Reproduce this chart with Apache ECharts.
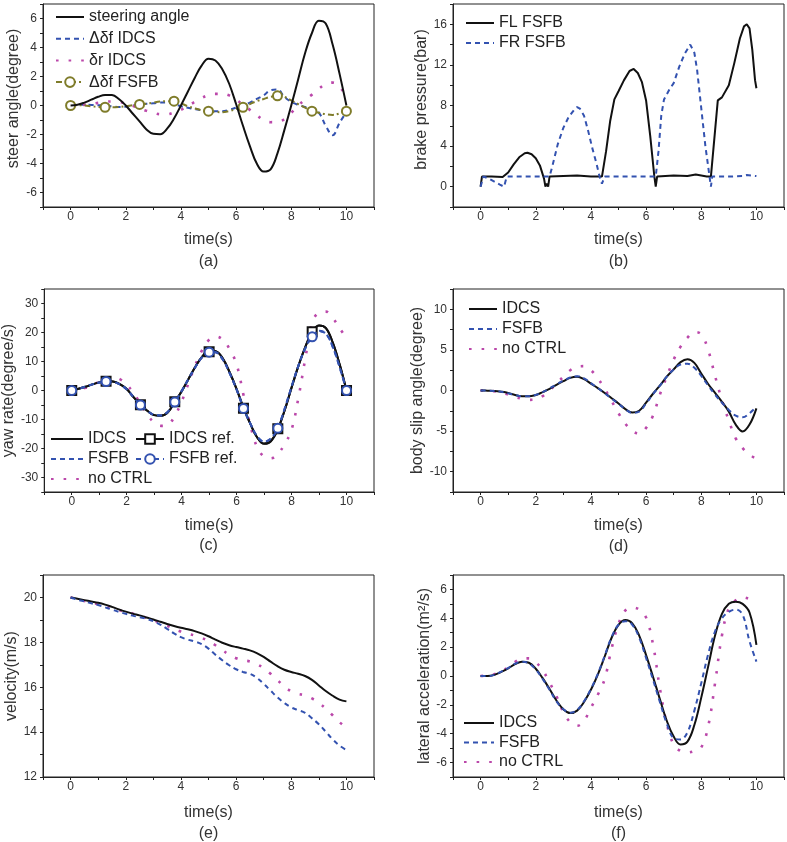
<!DOCTYPE html>
<html>
<head>
<meta charset="utf-8">
<script src="https://cdn.jsdelivr.net/npm/echarts@6/dist/echarts.min.js"></script>
<style>
html,body{margin:0;padding:0;background:#fff;}
#chart{width:787px;height:842px;}
</style>
</head>
<body>
<div id="chart"></div>
<script>
// ---------- data ----------
const time = [0,0.25,0.5,0.75,1,1.25,1.5,1.75,2,2.25,2.5,2.75,3,3.25,3.5,3.75,4,4.25,4.5,4.75,5,5.25,5.5,5.75,6,6.25,6.5,6.75,7,7.25,7.5,7.75,8,8.25,8.5,8.75,9,9.25,9.5,9.75,10];
const xTicks = [0,2,4,6,8,10];

// (a) steer angle (degree)
const steeringAngle = [0,0.05,0.2,0.4,0.6,0.73,0.72,0.45,0.0, -0.55,-1.1,-1.65,-1.95,-1.98,-1.6,-0.9,0.0, 0.95,1.9,2.75,3.22,3.1,2.5,1.5,0.1, -1.4,-2.8,-4.0,-4.55,-4.4,-3.3,-1.7,0.0, 1.8,3.6,5.0,5.85,5.65,4.2,2.2,0.0];
const dfIDCS = [0,0.05,0.06,0.04,0.02,0,-0.05,-0.1,-0.08, 0,0.08,0.12,0.15,0.2,0.2,0.1,-0.05, -0.15,-0.25,-0.32,-0.38,-0.4,-0.4,-0.3,-0.15, 0.0,0.2,0.45,0.7,1.05,1.1,0.6,0.25, 0.05,-0.1,-0.25,-0.5,-1.4,-2.05,-1.2,-0.45];
const drIDCS = [0,0.01,0.05,0.1,0.18,0.25,0.28,0.25,0.15, -0.02,-0.2,-0.37,-0.5,-0.6,-0.6,-0.48,-0.3, -0.05,0.25,0.52,0.72,0.8,0.8,0.7,0.4, 0.05,-0.3,-0.68,-1.0,-1.15,-1.12,-0.95,-0.5, 0.0,0.4,0.75,1.15,1.47,1.58,1.3,0.6];
const dfFSFB = [0,0.02,0.0,-0.05,-0.1,-0.12,-0.12,-0.1,-0.05, 0.02,0.07,0.12,0.2,0.27,0.3,0.3,0.15, -0.05,-0.2,-0.32,-0.39,-0.45,-0.46,-0.38,-0.25, -0.12,0.1,0.3,0.45,0.6,0.67,0.6,0.35, 0.1,-0.15,-0.39,-0.5,-0.6,-0.65,-0.55,-0.39];

// (b) brake pressure (bar)
const flTime = [0,0.05,0.4,0.8,0.85,1.0,1.2,1.4,1.6,1.7,1.85,2.0,2.15,2.3,2.35,2.4,2.45,2.5,3.0,3.5,4.0,4.4,4.55,4.7,4.85,5.0,5.2,5.4,5.55,5.7,5.85,6.0,6.15,6.3,6.35,6.4,7.0,7.5,7.8,8.2,8.35,8.5,8.6,8.75,9.0,9.2,9.4,9.55,9.65,9.75,9.85,9.95,10.0];
const flFSFB = [0,1.0,1.0,0.95,0.9,1.4,2.2,2.9,3.3,3.35,3.2,2.8,2.1,0.8,0,0.3,0,1.0,1.05,1.1,1.0,1.0,3.5,6.5,8.6,9.4,10.5,11.4,11.6,11.2,10.3,8.5,5.0,1.0,0,1.0,1.1,1.05,1.2,1.0,1.0,5.5,8.5,8.8,10.0,12.2,14.6,15.8,16.0,15.6,13.5,10.5,9.7];
const frTime = [0,0.1,0.3,0.5,0.7,0.85,0.95,1.5,2.5,2.6,2.8,3.0,3.2,3.4,3.5,3.6,3.75,3.9,4.05,4.2,4.35,4.4,4.5,5.0,6.0,6.35,6.45,6.55,6.65,6.85,7.0,7.2,7.4,7.6,7.75,7.85,7.95,8.05,8.15,8.25,8.35,8.4,9.0,9.5,9.65,10.0];
const frFSFB = [0,1.0,0.8,0.5,0.2,0,1.0,1.0,1.0,2.0,4.2,5.8,6.9,7.6,7.85,7.7,7.0,5.5,3.8,2.3,0.6,0.3,1.0,1.0,1.0,1.0,3.5,7.0,8.6,9.6,10.2,11.8,13.1,14.0,13.2,11.5,9.0,6.5,4.0,2.0,0,1.0,1.0,1.05,1.15,1.05];

// (c) yaw rate (degree/s)
const yawIDCS = [0,0.6,1.3,2.1,2.8,3.2,3.1,2.2,0.5, -2.3,-4.9,-7.0,-8.5,-8.7,-7.5,-4.1,-0.3, 4.0,8.2,11.8,13.9,13.6,11.0,6.2,0.5, -5.8,-11.5,-16.2,-18.4,-17.5,-13.5,-6.8,1.0, 8.5,15.0,20.0,22.4,21.5,16.5,9.0,0];
const yawIDCSref = [0,0.6,1.3,2.1,2.8,3.2,3.1,2.2,0.5, -2.3,-4.9,-7.0,-8.5,-8.7,-7.5,-3.9,-0.3, 4.0,8.2,11.6,13.4,13.4,11.0,6.2,0.5, -6.1,-11.5,-16.2,-18.3,-17.4,-13.2,-6.8,1.0, 8.5,15.0,20.3,22.4,21.5,16.5,9.0,0];
const yawFSFB = [0,0.6,1.3,2.1,2.75,3.1,3.0,2.1,0.4, -2.3,-4.9,-7.0,-8.4,-8.6,-7.3,-4.1,-0.2, 4.0,8.1,11.6,13.5,13.2,10.6,5.9,0.3, -5.9,-11.4,-15.8,-17.6,-16.6,-12.8,-6.2,1.3, 8.6,14.6,18.9,20.6,19.6,15.0,8.0,0];
const yawFSFBref = [0,0.6,1.3,2.1,2.75,3.1,3.0,2.1,0.4, -2.3,-5.0,-7.0,-8.4,-8.6,-7.3,-4.0,-0.2, 4.0,8.1,11.5,13.2,13.1,10.6,5.9,0.3, -6.2,-11.4,-15.8,-17.6,-16.5,-13.0,-6.2,1.3, 8.6,14.5,18.5,20.4,19.6,15.0,8.0,0];
const yawNoCtrl = [0,0.3,0.9,1.9,3.0,4.1,4.5,3.9,2.0, -0.8,-4.5,-8.3,-11.0,-12.2,-11.8,-8.8,-3.8, 2.5,8.8,14.0,17.5,18.6,17.5,14.2,9.0, -1.5,-12.0,-19.6,-22.8,-23.4,-21.8,-18.5,-13.5, -2.5,11.0,23.5,26.8,27.2,25.0,21.5,18.0];

// (d) body slip angle (degree)
const slipIDCS = [0,-0.02,-0.05,-0.15,-0.3,-0.55,-0.7,-0.72,-0.55, -0.2,0.2,0.7,1.15,1.55,1.68,1.4,0.85, 0.3,-0.3,-0.95,-1.6,-2.3,-2.72,-2.5,-1.5, -0.4,0.6,1.7,2.6,3.5,3.85,3.4,2.1, 0.8,-0.3,-1.4,-2.6,-4.2,-5.05,-4.2,-2.2];
const slipFSFB = [0,-0.02,-0.05,-0.15,-0.35,-0.55,-0.7,-0.7,-0.55, -0.2,0.25,0.75,1.2,1.6,1.75,1.5,0.9, 0.3,-0.35,-1.0,-1.65,-2.3,-2.75,-2.6,-1.6, -0.45,0.6,1.7,2.6,3.2,3.3,2.8,1.8, 0.6,-0.5,-1.5,-2.4,-3.1,-3.3,-2.8,-2.0];
const slipNoCtrl = [0,-0.02,-0.1,-0.3,-0.5,-0.8,-1.0,-1.15,-1.1, -0.7,0.0,0.85,1.7,2.5,2.95,3.0,2.5, 1.5,0.2,-1.3,-2.8,-4.1,-5.0,-5.3,-4.6, -3.1,-0.5,1.7,3.8,5.4,6.5,7.2,6.9, 5.0,1.8,-1.2,-3.7,-5.9,-7.1,-7.9,-8.4];

// (e) velocity (m/s)
const velIDCS = [20.0,19.94,19.88,19.82,19.76,19.68,19.58,19.47,19.37, 19.28,19.2,19.11,19.02,18.92,18.82,18.73,18.65, 18.58,18.5,18.4,18.27,18.12,17.98,17.87,17.79, 17.72,17.64,17.52,17.35,17.14,16.94,16.78,16.68, 16.6,16.5,16.33,16.08,15.83,15.62,15.45,15.37];
const velFSFB = [20.0,19.9,19.82,19.74,19.66,19.56,19.46,19.36,19.27, 19.19,19.12,19.05,18.94,18.79,18.6,18.4,18.23, 18.12,18.04,17.92,17.72,17.45,17.2,16.98,16.8, 16.68,16.6,16.42,16.15,15.85,15.55,15.3,15.1, 14.98,14.86,14.62,14.35,14.02,13.68,13.4,13.2];
const velNoCtrl = [20.0,19.92,19.84,19.77,19.7,19.61,19.51,19.43,19.36, 19.28,19.2,19.09,18.98,18.87,18.74,18.6,18.48, 18.39,18.3,18.2,18.05,17.87,17.66,17.45,17.29, 17.2,17.15,17.03,16.85,16.6,16.32,16.03,15.82, 15.7,15.64,15.5,15.3,15.05,14.75,14.44,14.2];

// (f) lateral acceleration (m²/s)
const latIDCS = [0,0.0,0.08,0.28,0.53,0.82,0.99,0.92,0.5, -0.15,-0.9,-1.7,-2.3,-2.57,-2.4,-1.8,-0.95, 0.1,1.35,2.65,3.55,3.88,3.65,2.8,1.45, -0.05,-1.6,-3.1,-4.2,-4.75,-4.55,-3.4,-1.5, 0.65,2.8,4.3,5.0,5.15,5.0,4.4,2.15];
const latFSFB = [0,0.0,0.08,0.3,0.55,0.85,0.98,0.88,0.45, -0.2,-0.95,-1.75,-2.3,-2.55,-2.35,-1.75,-0.9, 0.15,1.4,2.7,3.55,3.8,3.55,2.65,1.25, -0.25,-1.8,-3.3,-4.3,-4.4,-3.9,-2.4,-0.5, 1.5,3.1,4.0,4.45,4.6,4.25,2.4,1.0];
const latNoCtrl = [0,0.03,0.12,0.33,0.6,0.98,1.2,1.22,0.95, 0.4,-0.45,-1.4,-2.5,-3.2,-3.45,-3.1,-2.2, -1.3,-0.2,1.9,3.6,4.55,4.75,4.6,4.05, 2.2,-0.85,-3.3,-4.75,-5.2,-5.3,-5.2,-4.95, -3.5,-0.5,2.8,4.7,5.25,5.45,5.35,5.2];

// ---------- styling ----------
const FONT = '"Liberation Sans", Arial, Helvetica, sans-serif';
const BLACK = '#111111', BLUE = '#3352b0', MAG = '#bb48aa', OLIVE = '#7f7c2a', AX = '#222222', TXT = '#333333';
const ST = {
  solid:   {color: BLACK, width: 2, type: 'solid'},
  dash:    {color: BLUE, width: 2, type: [5, 4]},
  dot:     {color: MAG, width: 2.6, type: [2.6, 10]},
  dashdot: {color: OLIVE, width: 2, type: [6, 3, 2, 3]}
};

const grids = [
  {left: 43,  top: 4,   width: 331, height: 203},
  {left: 453, top: 4,   width: 331, height: 203},
  {left: 43,  top: 289, width: 331, height: 203},
  {left: 453, top: 289, width: 331, height: 203},
  {left: 43,  top: 575, width: 331, height: 202},
  {left: 453, top: 575, width: 331, height: 202}
].map(g => Object.assign({show: true, borderColor: AX, borderWidth: 1, backgroundColor: 'transparent'}, g));

const xNameGap = [25, 25, 26, 26, 28, 28];
const xAxes = grids.map((g, i) => ({
  type: 'value', gridIndex: i, min: -1, max: 11, interval: 1,
  name: 'time(s)', nameLocation: 'middle', nameGap: xNameGap[i],
  nameTextStyle: {fontSize: 16, color: TXT, fontFamily: FONT},
  axisLine: {show: true, onZero: false, lineStyle: {color: AX, width: 1}},
  axisTick: {show: true, inside: false, length: 3, lineStyle: {color: AX}},
  axisLabel: {fontSize: 12, color: TXT, fontFamily: FONT, margin: 4,
    formatter: v => (xTicks.indexOf(v) >= 0 ? String(v) : '')},
  splitLine: {show: false}
}));

const yDefs = [
  {name: 'steer angle(degree)', min: -7, max: 7, interval: 1, step: 2, gap: 21, shift: 14},
  {name: 'brake pressure(bar)', min: -2, max: 18, interval: 2, step: 4, gap: 22, shift: 12},
  {name: 'yaw rate(degree/s)', min: -35, max: 35, interval: 5, step: 10, gap: 23, shift: 0},
  {name: 'body slip angle(degree)', min: -12.5, max: 12.5, interval: 2.5, step: 5, gap: 27, shift: 0},
  {name: 'velocity(m/s)', min: 12, max: 21, interval: 1, step: 2, gap: 22, shift: 0},
  {name: 'lateral acceleration(m²/s)', min: -7, max: 7, interval: 1, step: 2, gap: 20, shift: 0}
];
const yAxes = yDefs.map((d, i) => ({
  type: 'value', gridIndex: i, min: d.min, max: d.max, interval: d.interval,
  name: d.name, nameLocation: 'middle', nameGap: d.gap, nameRotate: 90,
  nameTextStyle: {fontSize: 16, color: TXT, fontFamily: FONT, padding: [0, 0, 0, d.shift]},
  axisLine: {show: true, onZero: false, lineStyle: {color: AX, width: 1}},
  axisTick: {show: true, inside: false, length: 3, lineStyle: {color: AX}},
  axisLabel: {fontSize: 12, color: TXT, fontFamily: FONT, margin: 6,
    formatter: v => {
      const r = v / d.step;
      return Math.abs(r - Math.round(r)) < 1e-6 ? String(Math.round(v * 100) / 100) : '';
    }},
  splitLine: {show: false}
}));

function pairs(xs, ys) { return xs.map((t, i) => [t, ys[i]]); }
function line(name, gi, xs, ys, st, extra) {
  return Object.assign({
    type: 'line', name: name, xAxisIndex: gi, yAxisIndex: gi,
    data: pairs(xs, ys), symbol: 'none', smooth: 0.4,
    lineStyle: Object.assign({}, st), itemStyle: {color: st.color}, color: st.color,
    emphasis: {disabled: true}, silent: true, z: 2
  }, extra || {});
}
function marked(sym) {
  return {
    symbol: sym, showSymbol: true, showAllSymbol: true,
    symbolSize: (v, p) => (p.dataIndex % 5 === 0 ? 9 : 0)
  };
}

const series = [
  // (a)
  line('Δδf IDCS', 0, time, dfIDCS, ST.dash),
  line('δr IDCS', 0, time, drIDCS, ST.dot),
  line('Δδf FSFB', 0, time, dfFSFB, ST.dashdot, Object.assign(marked('emptyCircle'), {itemStyle: {color: OLIVE, borderWidth: 1.3}, z: 3})),
  line('steering angle', 0, time, steeringAngle, ST.solid, {z: 4}),
  // (b)
  line('FL FSFB', 1, flTime, flFSFB, ST.solid, {smooth: false}),
  line('FR FSFB', 1, frTime, frFSFB, ST.dash, {smooth: false}),
  // (c)
  line('no CTRL', 2, time, yawNoCtrl, ST.dot),
  line('IDCS', 2, time, yawIDCS, ST.solid),
  line('IDCS ref.', 2, time, yawIDCSref, ST.solid, Object.assign(marked('emptyRect'), {itemStyle: {color: BLACK, borderWidth: 1.3}, z: 3})),
  line('FSFB', 2, time, yawFSFB, ST.dash, {z: 3}),
  line('FSFB ref.', 2, time, yawFSFBref, ST.dash, Object.assign(marked('emptyCircle'), {itemStyle: {color: BLUE, borderWidth: 1.3}, z: 4})),
  // (d)
  line('no CTRL', 3, time, slipNoCtrl, ST.dot),
  line('IDCS', 3, time, slipIDCS, ST.solid),
  line('FSFB', 3, time, slipFSFB, ST.dash, {z: 3}),
  // (e)
  line('no CTRL', 4, time, velNoCtrl, ST.dot),
  line('IDCS', 4, time, velIDCS, ST.solid),
  line('FSFB', 4, time, velFSFB, ST.dash, {z: 3}),
  // (f)
  line('no CTRL', 5, time, latNoCtrl, ST.dot),
  line('IDCS', 5, time, latIDCS, ST.solid),
  line('FSFB', 5, time, latFSFB, ST.dash, {z: 3})
];

const withMarker = ['Δδf FSFB', 'IDCS ref.', 'FSFB ref.'];
function legend(left, top, gap, iw, names) {
  return {
    left: left, top: top, orient: 'vertical', padding: 0, itemGap: gap,
    itemWidth: iw, itemHeight: 12, selectedMode: false,
    textStyle: {fontSize: 16, lineHeight: 16, color: '#222', fontFamily: FONT},
    data: names.map(n => withMarker.indexOf(n) >= 0 ? n : {name: n, itemStyle: {opacity: 0}})
  };
}
const legends = [
  legend(55, 9, 5.7, 28, ['steering angle', 'Δδf IDCS', 'δr IDCS', 'Δδf FSFB']),
  legend(465, 15, 4, 28, ['FL FSFB', 'FR FSFB']),
  legend(50, 431, 4, 32, ['IDCS', 'FSFB', 'no CTRL']),
  legend(135, 431, 4, 28, ['IDCS ref.', 'FSFB ref.']),
  legend(468, 301, 4, 28, ['IDCS', 'FSFB', 'no CTRL']),
  legend(463, 715, 3.5, 30, ['IDCS', 'FSFB', 'no CTRL'])
];

const letters = [['(a)', 208.5, 262], ['(b)', 618.5, 262], ['(c)', 208.5, 546], ['(d)', 618.5, 547], ['(e)', 208.5, 834], ['(f)', 618.5, 834]];
const graphic = letters.map(l => ({
  type: 'text', x: l[1], y: l[2], silent: true,
  style: {text: l[0], fontSize: 16, fill: TXT, fontFamily: FONT, align: 'center', verticalAlign: 'middle'}
}));

const chart = echarts.init(document.getElementById('chart'), null, {renderer: 'canvas'});
chart.setOption({
  animation: false,
  backgroundColor: '#ffffff',
  textStyle: {fontFamily: FONT},
  grid: grids,
  xAxis: xAxes,
  yAxis: yAxes,
  legend: legends,
  series: series,
  graphic: graphic
});
</script>
</body>
</html>
